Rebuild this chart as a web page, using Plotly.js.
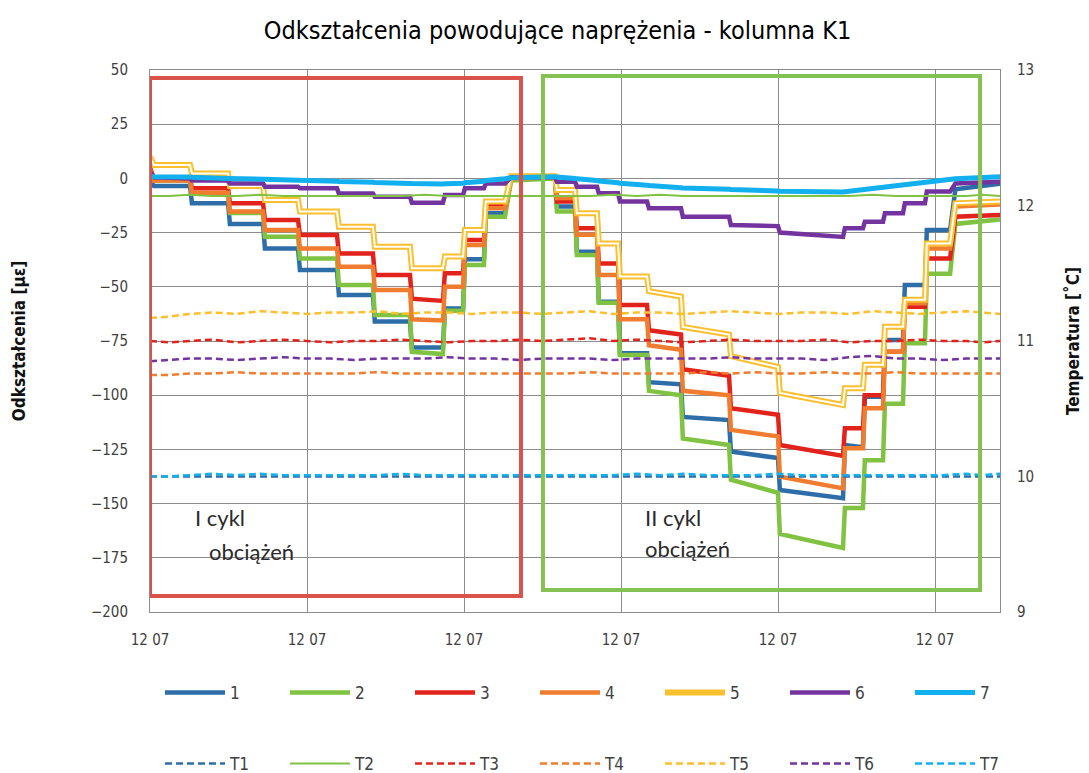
<!DOCTYPE html>
<html><head><meta charset="utf-8">
<script src="https://cdn.plot.ly/plotly-3.0.1.min.js"></script>
<style>html,body{margin:0;padding:0;background:#fff}</style>
</head><body>
<div id="chart" style="width:1089px;height:773px"></div>
<script>
// time axis (in tick units, one tick = "12 07")
const t = [0,0.025,0.255, 0.267,0.497, 0.509,0.720, 0.732,0.943, 0.955,1.191, 1.203,1.420, 1.432,1.656, 1.668,1.866,
  1.878,1.994, 2.006,2.127, 2.139,2.261, 2.300,2.580,
  2.592,2.707, 2.719,2.847, 2.859,2.981, 2.993,3.166, 3.178,3.382, 3.394,3.688, 3.700,4.000, 4.012,4.414,
  4.426,4.541, 4.553,4.669, 4.681,4.796, 4.808,4.936, 4.948,5.096, 5.130,5.414];

const s1 = [-1,-3.5,-3.5, -11.5,-11.5, -21,-21, -32.3,-32.3, -42.3,-42.3, -53.8,-53.8, -66,-66, -78,-78,
  -60,-60, -37.3,-37.3, -16.1,-16.1, 0,0.5,
  -13,-13, -33.8,-33.8, -56.9,-56.9, -80.7,-80.7, -94,-95, -110,-111.5, -126,-129, -143.7,-147.5,
  -123,-124, -100.7,-100.7, -74.5,-74.5, -49.2,-49.2, -23.8,-23.8, -5,-2.5];
const s2 = [-1,-1,-1, -7,-7, -16,-16, -26.9,-26.9, -36.9,-36.9, -49.2,-49.2, -63,-63, -80,-81,
  -61,-61, -40,-40, -17.7,-17.7, -1,0,
  -15.3,-15.3, -35.3,-35.3, -57.3,-57.3, -81.5,-81.5, -98,-100, -120,-123, -139,-145, -164,-170.5,
  -152,-152, -130,-130, -104,-104, -76,-76, -44,-44, -21,-19];
const s3 = [5,0,0, -4.6,-4.6, -11.5,-11.5, -19.2,-19.2, -26.1,-26.1, -34.6,-34.6, -44.6,-44.6, -55.5,-56.5,
  -43.8,-43.8, -28.4,-28.4, -12.3,-12.3, 0.5,0.5,
  -10.7,-10.7, -23,-23, -39.2,-39.2, -58.4,-58.4, -70,-72, -88,-91, -106,-109, -123,-128,
  -115.3,-115.3, -100,-100, -80,-80, -59.2,-59.2, -36.9,-36.9, -17.7,-16.9];
const s4 = [4,-1,-1, -6.6,-6.6, -15.3,-15.3, -23.8,-23.8, -32.3,-32.3, -40.7,-40.7, -51.5,-51.5, -65,-65.5,
  -50,-50, -30.7,-30.7, -13.8,-13.8, 0,0.5,
  -9,-9, -26,-26, -44.6,-44.6, -65,-65, -77,-79, -98,-100, -116,-119, -137.6,-143,
  -124.5,-124.5, -106,-106, -80,-80, -57.6,-57.6, -32.3,-32.3, -13,-12];
const s5 = [10,6.2,6.2, 2.3,2.3, -3.5,-3.5, -10,-10, -15.3,-15.3, -22.3,-22.3, -31.5,-31.5, -41.4,-41.4,
  -36,-36, -23.8,-23.8, -10.7,-10.7, 1,1,
  -5.4,-5.4, -16.1,-16.1, -30,-30, -45.3,-45.3, -52,-54.5, -68.5,-72, -82,-87, -99,-104.5,
  -96.8,-96.8, -86,-86, -68.4,-68.4, -56,-56, -30,-30, -11.5,-10.7];
const s6 = [3,0.5,0, -1,-1, -2.3,-2.3, -3.8,-3.8, -4.5,-4.5, -7,-7, -8.5,-8.5, -11.2,-11.2,
  -7.7,-7.7, -4.6,-4.6, -2.3,-2.3, 0.5,0.5,
  -1.5,-1.5, -3.8,-3.8, -6.9,-6.9, -10.7,-10.7, -13.8,-13.8, -17.7,-17.7, -21.5,-22, -25,-27,
  -23,-23, -20,-20, -16.1,-16.1, -11.5,-11.5, -6.1,-6.1, -2.3,-1.5];
const s7 = [1,0.8,0.6, 0.5,0, 0,-0.3, -0.4,-0.8, -0.9,-1.3, -1.4,-1.8, -1.9,-2.3, -2.4,-2.6,
  -2.5,-2.2, -2,-1.3, -1,-0.2, 0.3,0.8,
  0.6,0, -0.2,-1, -1.2,-2, -2.2,-3.2, -3.3,-4.3, -4.4,-5, -5.1,-5.8, -5.9,-6.3,
  -6.2,-5.6, -5.4,-4.5, -4.3,-3.3, -3.1,-2, -1.8,-0.5, -0.2,0.8];

// temperatures (right axis)
const tt = [0,0.12,0.25,0.4,0.55,0.7,0.85,1.0,1.15,1.3,1.45,1.6,1.75,1.9,2.05,2.2,2.35,2.5,2.65,2.8,
  2.95,3.1,3.25,3.4,3.55,3.7,3.85,4.0,4.15,4.3,4.45,4.6,4.75,4.9,5.05,5.2,5.3,5.414];
const T1 = [10.0,10.0,10.0,10.0,10.0,10.0,10.0,10.0,10.0,10.0,10.0,10.0,10.0,10.0,10.0,10.0,10.0,10.0,10.0,10.0,
  10.0,10.0,10.0,10.0,10.0,10.0,10.0,10.0,10.0,10.0,10.0,10.0,10.0,10.0,10.0,10.0,10.0,10.0];
const T2 = [12.07,12.07,12.08,12.07,12.07,12.08,12.07,12.07,12.07,12.07,12.07,12.07,12.08,12.07,12.07,12.07,12.07,12.07,12.07,12.07,
  12.08,12.07,12.08,12.07,12.07,12.07,12.07,12.07,12.07,12.07,12.07,12.08,12.07,12.07,12.07,12.07,12.08,12.07];
const T3 = [11.0,10.99,11.0,11.01,10.99,11.0,11.01,11.0,10.99,11.0,11.0,11.01,11.0,10.99,11.0,11.0,11.01,11.0,11.01,11.02,
  11.0,11.01,11.0,10.99,11.0,11.01,11.0,11.0,11.0,11.01,10.99,11.0,11.0,11.01,11.0,11.0,10.99,11.0];
const T4 = [10.75,10.75,10.76,10.76,10.77,10.76,10.76,10.76,10.76,10.76,10.77,10.76,10.76,10.76,10.76,10.76,10.76,10.76,10.76,10.77,
  10.76,10.76,10.76,10.76,10.77,10.76,10.77,10.76,10.76,10.77,10.76,10.76,10.77,10.76,10.76,10.76,10.76,10.76];
const T5 = [11.17,11.18,11.2,11.21,11.2,11.22,11.21,11.2,11.21,11.21,11.22,11.2,11.21,11.21,11.2,11.21,11.21,11.2,11.21,11.22,
  11.2,11.21,11.21,11.2,11.21,11.22,11.21,11.2,11.21,11.21,11.2,11.22,11.21,11.2,11.21,11.22,11.21,11.2];
const T6 = [10.85,10.86,10.87,10.87,10.86,10.87,10.88,10.87,10.87,10.86,10.87,10.87,10.87,10.88,10.87,10.87,10.86,10.87,10.87,10.87,
  10.86,10.87,10.87,10.87,10.87,10.88,10.87,10.87,10.87,10.86,10.88,10.89,10.87,10.87,10.86,10.87,10.87,10.87];
const T7 = [10.0,10.0,10.01,10.02,10.01,10.02,10.01,10.01,10.01,10.01,10.01,10.02,10.01,10.01,10.01,10.01,10.01,10.01,10.01,10.01,
  10.01,10.02,10.01,10.02,10.01,10.01,10.01,10.02,10.01,10.01,10.01,10.01,10.01,10.01,10.01,10.02,10.01,10.02];

const tickPos = [0,1,2,3,4,5];
const tickText = ['12 07','12 07','12 07','12 07','12 07','12 07'];
const strainNames = ['1','2','3','4','5','6','7'];
const tempNames = ['T1','T2','T3','T4','T5','T6','T7'];
const cycleLabels = ['I cykl','obciążeń','II cykl','obciążeń'];

const FONT = '"DejaVu Sans Condensed", "Liberation Sans", sans-serif';
const C = {b:'#2E6EA8', g:'#80C242', r:'#E2231C', o:'#EF7C2F', y:'#FCBF2E', p:'#74349F', c:'#12B0EE'};

// legend split: each row is two legends side by side (items 1-4, items 5-7)
const rowA = ['legend','legend','legend','legend','legend3','legend3','legend3'];
const rowB = ['legend2','legend2','legend2','legend2','legend4','legend4','legend4'];

const strains = [s1,s2,s3,s4,s5,s6,s7];
const sCol = [C.b,C.g,C.r,C.o,C.y,C.p,C.c];
const sW = [4.5,4.5,4.5,4.5,6,4.5,5];
const traces = [];
strains.forEach((s,i)=>{
  traces.push({x:t, y:s, type:'scatter', mode:'lines', name:strainNames[i], legend:rowA[i],
    line:{color:sCol[i], width:sW[i]}});
  if (i===4) {
    traces.push({x:t, y:s, type:'scatter', mode:'lines', name:strainNames[i], legend:rowA[i],
      showlegend:false, line:{color:'#ffffff', width:2}});
  }
});
const temps = [T1,T2,T3,T4,T5,T6,T7];
const tCol = [C.b,C.g,C.r,C.o,C.y,C.p,C.c];
temps.forEach((s,i)=>{
  traces.push({x:tt, y:s, yaxis:'y2', type:'scatter', mode:'lines', name:tempNames[i], legend:rowB[i],
    line:{color:tCol[i], width: i===1 ? 2 : 2.5, dash: i===1 ? 'solid' : '7px,4px'}});
});

const legendCommon = {orientation:'h', xref:'container', yref:'container', xanchor:'left', yanchor:'middle',
  entrywidth:50, entrywidthmode:'pixels', itemwidth:60, bgcolor:'rgba(0,0,0,0)',
  font:{family:FONT, size:17, color:'#404040'}};
const xA = 160/1089, xB = 660/1089;
const annFont = {family:'Lato, "Open Sans", sans-serif', size:22, color:'#2a2a2a'};

const layout = {
  width:1089, height:773,
  margin:{l:150, r:89, t:70, b:161},
  paper_bgcolor:'#ffffff', plot_bgcolor:'#ffffff',
  font:{family:FONT, color:'#404040', size:15},
  hovermode:false,
  title:{text:'Odkształcenia powodujące naprężenia - kolumna K1', xref:'container', x:0.512, xanchor:'center',
    y:1-30/773, yanchor:'middle', font:{family:FONT, size:25, color:'#000000'}},
  xaxis:{range:[0,5.414], tickvals:tickPos, ticktext:tickText, showgrid:true, gridcolor:'#8c8c8c', gridwidth:1,
    zeroline:false, showline:true, mirror:true, linecolor:'#8c8c8c', linewidth:1, ticks:'', ticklabelstandoff:14,
    tickfont:{family:FONT, size:15, color:'#404040'}},
  yaxis:{range:[-200,50], tick0:0, dtick:25, showgrid:true, gridcolor:'#8c8c8c', gridwidth:1, zeroline:false,
    showline:true, mirror:true, linecolor:'#8c8c8c', linewidth:1, ticks:'', ticklabelstandoff:18,
    tickfont:{family:FONT, size:15, color:'#404040'},
    title:{text:'Odkształcenia [µε]', standoff:60, font:{family:FONT, size:17, color:'#111111', weight:'bold'}}},
  yaxis2:{overlaying:'y', side:'right', range:[9,13], dtick:1, showgrid:false, zeroline:false, showline:false,
    ticks:'', ticklabelstandoff:16, tickfont:{family:FONT, size:15, color:'#404040'},
    title:{text:'Temperatura [˚C]', standoff:33, font:{family:FONT, size:17, color:'#111111', weight:'bold'}}},
  shapes:[
    {type:'rect', xref:'x', yref:'y', x0:0, x1:2.363, y0:-192.6, y1:46.3, line:{color:'#D9534A', width:4}, layer:'above'},
    {type:'rect', xref:'x', yref:'y', x0:2.503, x1:5.287, y0:-189.9, y1:47.2, line:{color:'#86C154', width:4}, layer:'above'}
  ],
  annotations:[
    {text:cycleLabels[0], xref:'x', yref:'y', x:0.274, y:-156.2, xanchor:'left', yanchor:'middle', showarrow:false, font:annFont},
    {text:cycleLabels[1], xref:'x', yref:'y', x:0.36, y:-172.3, xanchor:'left', yanchor:'middle', showarrow:false, font:annFont},
    {text:cycleLabels[2], xref:'x', yref:'y', x:3.14, y:-156.2, xanchor:'left', yanchor:'middle', showarrow:false, font:annFont},
    {text:cycleLabels[3], xref:'x', yref:'y', x:3.14, y:-170.5, xanchor:'left', yanchor:'middle', showarrow:false, font:annFont}
  ],
  legend:Object.assign({}, legendCommon, {x:xA, y:1-693/773}),
  legend3:Object.assign({}, legendCommon, {x:xB, y:1-693/773}),
  legend2:Object.assign({}, legendCommon, {x:xA, y:1-764/773}),
  legend4:Object.assign({}, legendCommon, {x:xB, y:1-764/773})
};

Plotly.newPlot('chart', traces, layout, {displayModeBar:false, staticPlot:true});
</script>
</body></html>
